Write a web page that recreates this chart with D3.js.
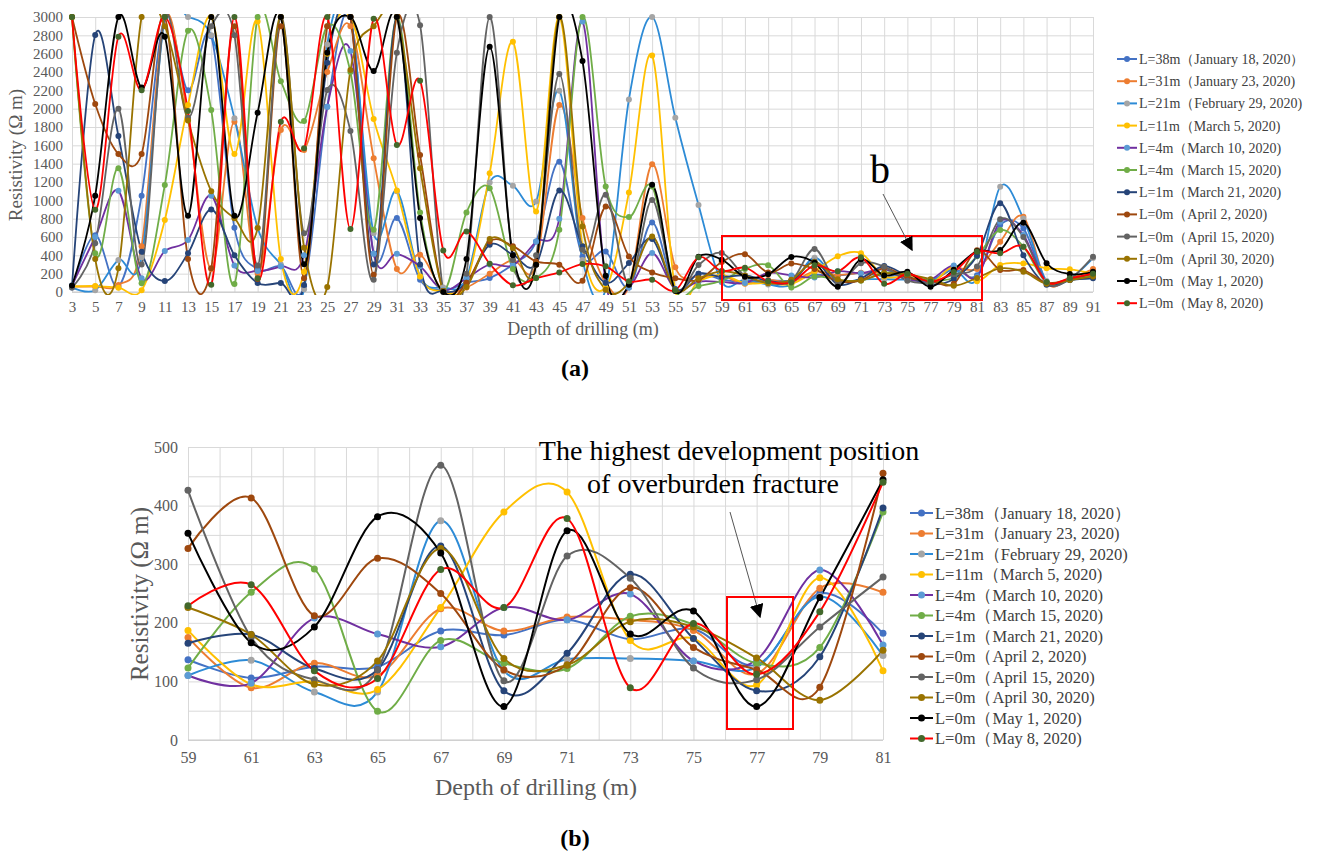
<!DOCTYPE html>
<html><head><meta charset="utf-8">
<script src="https://cdn.jsdelivr.net/npm/d3@7"></script>
<style>
body{margin:0;background:#fff;}
svg{display:block;}
text{font-family:"Liberation Serif","Times New Roman",serif;}
</style></head><body>
<svg id="chart" width="1320" height="856"></svg>
<script>
// Series labels (borehole distance and survey date)
const seriesNames = [
  "L=38m\uFF08January 18, 2020\uFF09",
  "L=31m\uFF08January 23, 2020)",
  "L=21m\uFF08February 29, 2020)",
  "L=11m\uFF08March 5, 2020)",
  "L=4m\uFF08March 10, 2020)",
  "L=4m\uFF08March 15, 2020)",
  "L=1m\uFF08March 21, 2020)",
  "L=0m\uFF08April 2, 2020)",
  "L=0m\uFF08April 15, 2020)",
  "L=0m\uFF08April 30, 2020)",
  "L=0m\uFF08May 1, 2020)",
  "L=0m\uFF08May 8, 2020)"
];
const lineColors   = ["#4472C4","#ED7D31","#2D8BD6","#FFC000","#7030A0","#70AD47","#264478","#9E480E","#636363","#997300","#000000","#FF0000"];
const markerColors = ["#4472C4","#ED7D31","#A5A5A5","#FFC000","#5B9BD5","#70AD47","#264478","#9E480E","#636363","#997300","#000000","#43682B"];

// Depth categories
const depthsFull = [3,5,7,9,11,13,15,17,19,21,23,25,27,29,31,33,35,37,39,41,43,45,47,49,51,53,55,57,59,61,63,65,67,69,71,73,75,77,79,81,83,85,87,89,91];
const depthsZoom = [59,61,63,65,67,69,71,73,75,77,79,81];
const yTicksFull = [0,200,400,600,800,1000,1200,1400,1600,1800,2000,2200,2400,2600,2800,3000];
const yTicksZoom = [0,100,200,300,400,500];
const yGridZoom  = [0,50,100,150,200,250,300,350,400,450,500];

// Resistivity 59–81 m (Ω·m)
const zoomL38  = [137,106,125,125,186,179,205,172,189,128,250,182];
const zoomL31  = [175, 89,131,110,224,186,210,205,187,113,259,252];
const zoomL21  = [110,136, 82, 82,374,118,138,139,135,124,245,144];
const zoomL11  = [187, 95,100, 86,226,389,423,170,173, 94,277,118];
const zoomL4a  = [110, 97,208,181,159,226,205,249,135,137,290,162];
const zoomL4b  = [123,252,292, 49,170,131,122,211,197,131,158,389];
const zoomL1   = [165,180,122,120,331, 84,148,283,173, 84,142,396];
const zoomApr2 = [327,413,212,310,250,120,128,260,158,120, 90,455];
const zoomApr15= [426,175,103,120,469,101,314,276,123,103,193,278];
const zoomApr30= [226,180, 95,135,327,139,128,202,193,140, 68,153];
const zoomMay1 = [353,166,193,381,319, 57,357,181,220, 57,243,444];
const zoomMay8 = [229,265,118,105,291,226,378, 89,199,112,219,440];

// Resistivity 3–57 m
const headL38  = [50,620,60,1050,3000,2200,2790,700,250,280,60,2020,3000,420,806,134,20,100,152,300,550,1420,388,443,50,759,30,200];
const headL31  = [60,60,76,500,3000,1880,250,1858,200,1768,1550,2400,2900,1459,250,407,10,50,200,350,300,2040,806,100,60,1394,270,167];
const headL21  = [50,20,350,380,3000,3000,2800,1895,700,300,30,2700,3000,642,1100,170,50,150,1194,1158,987,2196,350,30,2100,3000,1900,949];
const headL11  = [60,65,47,20,785,2040,3000,1506,2950,359,222,2600,3000,1888,1107,170,10,100,1296,2729,878,3000,500,50,1085,2580,20,120];
const headL4a  = [70,600,1105,150,447,567,1050,290,230,280,400,2022,2630,417,417,280,20,150,300,290,550,800,2950,100,50,425,30,113];
const headL4b  = [3000,422,1349,95,1167,2850,1985,87,3000,2300,1865,2900,2400,679,3000,868,10,868,1133,250,152,679,3000,1151,817,1150,20,65];
const headL1   = [60,2804,1702,440,120,422,900,400,98,98,76,2500,3000,300,3000,300,10,100,515,407,300,1107,500,100,316,577,30,200];
const headApr2 = [3000,2051,1505,1505,3000,360,260,2900,142,2900,150,2900,3000,189,3000,1495,10,100,552,500,334,298,123,933,388,214,150,130];
const headApr15= [50,531,2000,300,3000,1900,2900,2800,290,3000,640,2203,1757,134,2610,2911,10,200,3000,350,400,2377,461,1060,80,1005,20,295];
const headApr30= [3000,360,258,3000,2900,1870,1100,805,697,3000,484,54,2421,2900,3000,1350,10,54,577,480,300,3000,715,25,100,606,20,150];
const headMay1 = [70,1051,3000,2230,2785,833,3000,831,1956,3000,302,2610,3000,2410,3000,806,0,360,2675,400,298,3000,2519,178,80,1169,10,385];
const headMay8 = [3000,898,2785,2200,3000,1975,80,3000,150,1858,1567,3000,686,2980,1604,2305,454,660,308,73,152,214,305,280,116,134,20,378];

// Resistivity 83–91 m
const tailL38  = [730,694,100,130,200];
const tailL31  = [549,822,100,150,250];
const tailL21  = [1149,803,120,150,370];
const tailL11  = [295,312,258,247,200];
const tailL4a  = [767,622,110,140,200];
const tailL4b  = [676,494,100,130,180];
const tailL1   = [967,400,80,130,150];
const tailApr2 = [240,240,100,140,200];
const tailApr15= [793,600,100,140,385];
const tailApr30= [258,222,90,130,170];
const tailMay1 = [458,756,313,196,220];
const tailMay8 = [422,494,110,150,200];

const zoomSeries = [zoomL38,zoomL31,zoomL21,zoomL11,zoomL4a,zoomL4b,zoomL1,zoomApr2,zoomApr15,zoomApr30,zoomMay1,zoomMay8];
const heads = [headL38,headL31,headL21,headL11,headL4a,headL4b,headL1,headApr2,headApr15,headApr30,headMay1,headMay8];
const tails = [tailL38,tailL31,tailL21,tailL11,tailL4a,tailL4b,tailL1,tailApr2,tailApr15,tailApr30,tailMay1,tailMay8];
const fullSeries = heads.map((h,i)=>h.concat(zoomSeries[i], tails[i]));

const svg = d3.select("#chart");
const AXIS_GREY = "#595959", GRID = "#d9d9d9";
const SERIF = '"Liberation Serif","Times New Roman",serif';

function panel(cfg){
  const g = svg.append("g");
  const x = d3.scaleLinear().domain(cfg.xDomain).range(cfg.xRange);
  const y = d3.scaleLinear().domain(cfg.yDomain).range(cfg.yRange);

  // horizontal gridlines
  g.append("g").attr("transform",`translate(${cfg.xRange[0]},0)`)
    .call(d3.axisLeft(y).tickValues(cfg.yGrid).tickSize(-(cfg.xRange[1]-cfg.xRange[0])).tickFormat(""))
    .call(a=>a.select(".domain").remove())
    .call(a=>a.selectAll("line").attr("stroke",GRID).attr("stroke-width",1));
  // vertical gridlines
  g.append("g").attr("transform",`translate(0,${cfg.yRange[1]})`)
    .call(d3.axisBottom(x).tickValues(cfg.xGrid).tickSize(cfg.yRange[0]-cfg.yRange[1]).tickFormat(""))
    .call(a=>a.select(".domain").remove())
    .call(a=>a.selectAll("line").attr("stroke",GRID).attr("stroke-width",1));
  // baseline
  g.append("line").attr("x1",cfg.xRange[0]).attr("x2",cfg.xRange[1])
    .attr("y1",y(0)).attr("y2",y(0)).attr("stroke","#c8c8c8");

  // tick labels
  g.append("g").attr("transform",`translate(${cfg.xRange[0]},0)`)
    .call(d3.axisLeft(y).tickValues(cfg.yTicks).tickSize(0).tickPadding(cfg.yPad).tickFormat(d3.format("d")))
    .call(a=>a.select(".domain").remove())
    .call(a=>a.selectAll("text").attr("fill",AXIS_GREY).style("font-size",cfg.tickFont+"px").style("font-family",SERIF));
  g.append("g").attr("transform",`translate(0,${cfg.yRange[0]})`)
    .call(d3.axisBottom(x).tickValues(cfg.xTicks).tickSize(0).tickPadding(cfg.xPad).tickFormat(d3.format("d")))
    .call(a=>a.select(".domain").remove())
    .call(a=>a.selectAll("text").attr("fill",AXIS_GREY).style("font-size",cfg.tickFont+"px").style("font-family",SERIF));

  // clip for lines
  const cid = "clip"+cfg.id;
  svg.append("clipPath").attr("id",cid).append("rect")
    .attr("x",cfg.xRange[0]-2).attr("y",cfg.yRange[1]-3)
    .attr("width",cfg.xRange[1]-cfg.xRange[0]+4).attr("height",cfg.yRange[0]-cfg.yRange[1]+6);

  const line = d3.line().x(d=>x(d[0])).y(d=>y(d[1])).curve(d3.curveCardinal.tension(0));
  const lines = g.append("g").attr("clip-path",`url(#${cid})`);
  cfg.series.forEach((vals,i)=>{
    const pts = cfg.depths.map((d,k)=>[d,vals[k]]);
    lines.append("path").datum(pts).attr("d",line).attr("fill","none")
      .attr("stroke",lineColors[i]).attr("stroke-width",cfg.lw);
    const sg = g.append("g");
    sg.selectAll("circle").data(pts).join("circle")
      .attr("cx",d=>x(d[0])).attr("cy",d=>y(d[1])).attr("r",cfg.r)
      .attr("fill",markerColors[i]);
  });

  // axis titles
  g.append("text").attr("transform",`translate(${cfg.yTitle[0]},${cfg.yTitle[1]}) rotate(-90)`)
    .attr("text-anchor","middle").attr("fill",AXIS_GREY).style("font-size",cfg.titleFont+"px")
    .text("Resistivity (\u03A9 m)");
  g.append("text").attr("x",cfg.xTitle[0]).attr("y",cfg.xTitle[1])
    .attr("text-anchor","middle").attr("fill",AXIS_GREY).style("font-size",cfg.xTitleFont+"px")
    .text("Depth of drilling (m)");

  // legend
  const lg = g.append("g");
  seriesNames.forEach((n,i)=>{
    const yy = cfg.legend.y + i*cfg.legend.dy;
    lg.append("line").attr("x1",cfg.legend.x).attr("x2",cfg.legend.x+cfg.legend.len)
      .attr("y1",yy).attr("y2",yy).attr("stroke",lineColors[i]).attr("stroke-width",2);
    lg.append("circle").attr("cx",cfg.legend.x+cfg.legend.len/2).attr("cy",yy).attr("r",cfg.r)
      .attr("fill",markerColors[i]);
    lg.append("text").attr("x",cfg.legend.x+cfg.legend.len+2).attr("y",yy)
      .attr("dy","0.35em").attr("fill","#404040").style("font-size",cfg.legend.font+"px").text(n);
  });
  return {x,y,g};
}

panel({
  id:"a", depths:depthsFull, series:fullSeries,
  xDomain:[3,91], xRange:[72,1093], yDomain:[0,3000], yRange:[292,17],
  yTicks:yTicksFull, yGrid:yTicksFull, xTicks:depthsFull, xGrid:depthsFull,
  tickFont:15, yPad:9, xPad:9, lw:1.8, r:3,
  yTitle:[22,155], titleFont:19, xTitle:[583,335], xTitleFont:18,
  legend:{x:1117,y:59,dy:22.2,len:20,font:14}
});

panel({
  id:"b", depths:depthsZoom, series:zoomSeries,
  xDomain:[59,81], xRange:[188,883], yDomain:[0,500], yRange:[740,447],
  yTicks:yTicksZoom, yGrid:yGridZoom, xTicks:depthsZoom,
  xGrid:[59,60,61,62,63,64,65,66,67,68,69,70,71,72,73,74,75,76,77,78,79,80,81],
  tickFont:16, yPad:10, xPad:12, lw:2, r:3.5,
  yTitle:[148,594], titleFont:25, xTitle:[536,795], xTitleFont:24,
  legend:{x:910,y:513,dy:20.5,len:23,font:16.5}
});

// Sub-figure labels
svg.append("text").attr("x",575).attr("y",376).attr("text-anchor","middle")
  .style("font-size","24px").style("font-weight","bold").text("(a)");
svg.append("text").attr("x",575).attr("y",846).attr("text-anchor","middle")
  .style("font-size","24px").style("font-weight","bold").text("(b)");

// Arrowhead marker
const defs = svg.append("defs");
defs.append("marker").attr("id","arrowHead").attr("viewBox","0 0 10 10").attr("refX",9).attr("refY",5)
  .attr("markerWidth",14).attr("markerHeight",14).attr("markerUnits","userSpaceOnUse").attr("orient","auto")
  .append("path").attr("d","M0,0 L10,5 L0,10 z").attr("fill","#000");

// Region "b" in panel (a)
svg.append("rect").attr("x",722).attr("y",236).attr("width",260).attr("height",64)
  .attr("fill","none").attr("stroke","#ff0000").attr("stroke-width",2);
svg.append("text").attr("x",880).attr("y",183).attr("text-anchor","middle")
  .style("font-size","40px").attr("fill","#000").text("b");
svg.append("line").attr("x1",883).attr("y1",194).attr("x2",912).attr("y2",250)
  .attr("stroke","#555").attr("stroke-width",1).attr("marker-end","url(#arrowHead)");

// Annotation in panel (b)
svg.append("text").attr("x",729).attr("y",460).attr("text-anchor","middle")
  .style("font-size","28px").attr("fill","#000").text("The highest development position");
svg.append("text").attr("x",713).attr("y",493).attr("text-anchor","middle")
  .style("font-size","28px").attr("fill","#000").text("of overburden fracture");
svg.append("line").attr("x1",730).attr("y1",512).attr("x2",760).attr("y2",617)
  .attr("stroke","#555").attr("stroke-width",1).attr("marker-end","url(#arrowHead)");
svg.append("rect").attr("x",727).attr("y",597).attr("width",66).attr("height",132)
  .attr("fill","none").attr("stroke","#ff0000").attr("stroke-width",2);
</script>
</body></html>
